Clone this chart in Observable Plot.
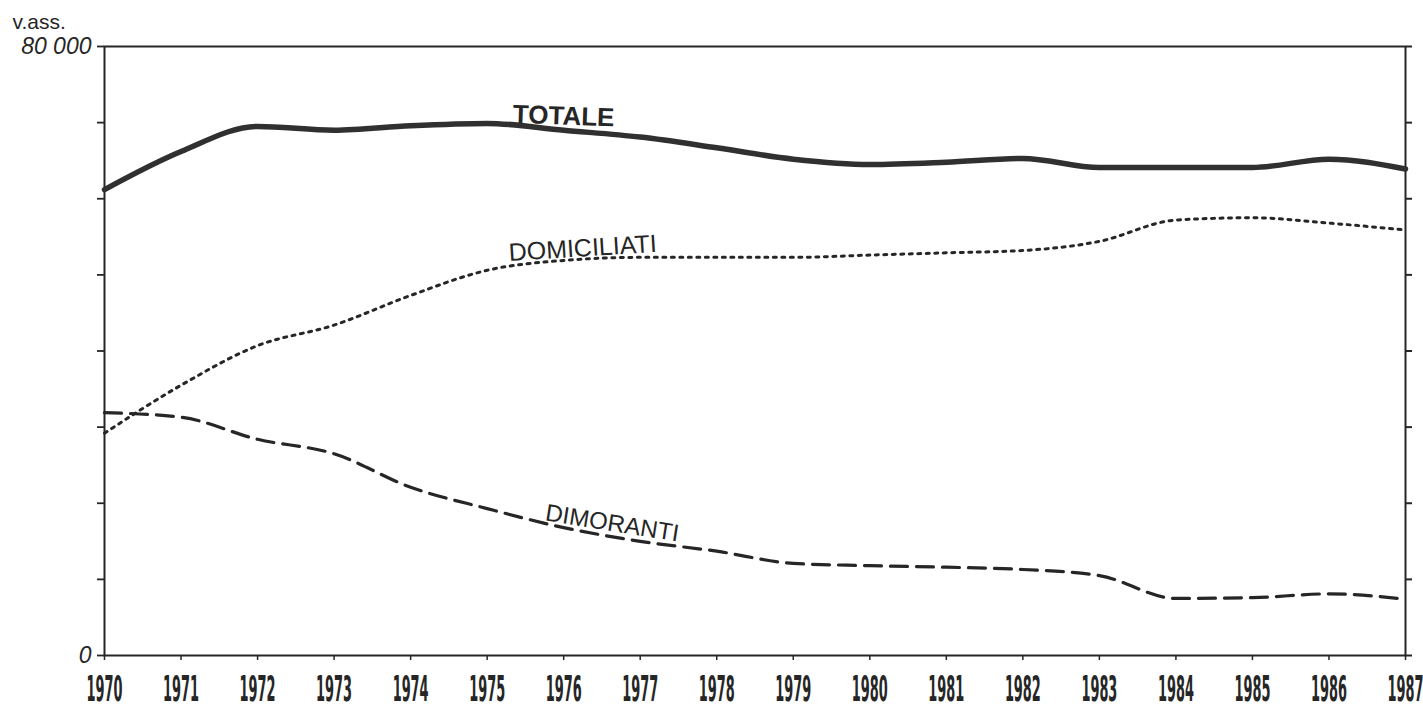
<!DOCTYPE html>
<html>
<head>
<meta charset="utf-8">
<script src="https://cdn.jsdelivr.net/npm/d3@7"></script>
<script src="https://cdn.jsdelivr.net/npm/@observablehq/plot@0.6"></script>
<style>
  html, body { margin: 0; padding: 0; background: #fff; }
  #chart { width: 1423px; height: 713px; overflow: hidden; }
</style>
</head>
<body>
<div id="chart"></div>
<script>
const years = [1970, 1971, 1972, 1973, 1974, 1975, 1976, 1977, 1978, 1979, 1980, 1981, 1982, 1983, 1984, 1985, 1986, 1987];
const totale = [61200, 66200, 69500, 69000, 69600, 69900, 69000, 68100, 66700, 65200, 64500, 64800, 65300, 64100, 64100, 64100, 65200, 63900];
const domiciliati = [29200, 35500, 40700, 43400, 47300, 50600, 51900, 52300, 52300, 52300, 52600, 52900, 53200, 54400, 57200, 57500, 56800, 55900];
const dimoranti = [31900, 31300, 28400, 26500, 22100, 19300, 16800, 15000, 13700, 12100, 11800, 11600, 11300, 10500, 7500, 7600, 8100, 7400];
const yTicks = [0, 10000, 20000, 30000, 40000, 50000, 60000, 70000, 80000];
const yTickLabels = {0: "0", 80000: "80 000"};
const unitLabel = "v.ass.";
const seriesLabels = ["TOTALE", "DOMICILIATI", "DIMORANTI"];

const ink = "#262626";
const rowsT = years.map((y, i) => ({year: y, value: totale[i]}));
const rowsD = years.map((y, i) => ({year: y, value: domiciliati[i]}));
const rowsR = years.map((y, i) => ({year: y, value: dimoranti[i]}));

const chart = Plot.plot({
  width: 1423,
  height: 713,
  marginLeft: 104,
  marginRight: 18,
  marginTop: 46,
  marginBottom: 58,
  style: {background: "#fff", color: ink},
  x: {domain: [1970, 1987], label: null},
  y: {domain: [0, 80000], label: null},
  marks: [
    Plot.axisX({ticks: years, tickFormat: d => String(d), tickSize: 5, tickPadding: 15, label: null,
      fontSize: 36, fontWeight: "bold", fontFamily: "'DejaVu Sans Condensed', 'Liberation Sans Narrow', sans-serif",
      stroke: ink, fill: ink, strokeWidth: 1.5}),
    Plot.axisY({ticks: yTicks, tickFormat: d => yTickLabels[d] || "", tickSize: 7, tickPadding: 6, label: null,
      fontSize: 23, fontStyle: "italic", fontFamily: "'Liberation Sans', Arial, sans-serif",
      stroke: ink, fill: ink, strokeWidth: 1.8}),
    Plot.axisY({anchor: "right", ticks: yTicks, tickFormat: () => "", tickSize: 6, label: null, stroke: ink, strokeWidth: 2}),
    Plot.frame({stroke: ink, strokeWidth: 2}),
    Plot.line(rowsR, {x: "year", y: "value", stroke: ink, strokeWidth: 3.2, strokeDasharray: "17,9", curve: "monotone-x"}),
    Plot.line(rowsD, {x: "year", y: "value", stroke: ink, strokeWidth: 3, strokeDasharray: "3,5.5", curve: "monotone-x"}),
    Plot.line(rowsT, {x: "year", y: "value", stroke: "#303030", strokeWidth: 5.5, curve: "monotone-x"}),
    Plot.text([rowsT[6]], {x: "year", y: "value", text: () => seriesLabels[0], dy: -14, dx: 0, rotate: 2,
      fontSize: 26, fontWeight: "bold", fontFamily: "'Liberation Sans', Arial, sans-serif", fill: ink}),
    Plot.text([rowsD[6]], {x: "year", y: "value", text: () => seriesLabels[1], dy: -12, dx: 19, rotate: -3.5,
      fontSize: 25, fontFamily: "'Liberation Sans', Arial, sans-serif", fill: ink}),
    Plot.text([rowsR[7]], {x: "year", y: "value", text: () => seriesLabels[2], dy: -18, dx: -28, rotate: 9,
      fontSize: 24, fontFamily: "'Liberation Sans', Arial, sans-serif", fill: ink}),
    Plot.text([unitLabel], {frameAnchor: "top-left", text: d => d, dx: -92, dy: -24, textAnchor: "start", lineAnchor: "middle",
      fontSize: 21, fontFamily: "'Liberation Sans', Arial, sans-serif", fill: ink})
  ]
});

document.getElementById("chart").appendChild(chart);
chart.querySelectorAll('g[aria-label="x-axis tick label"] text').forEach(t => {
  const w = t.getComputedTextLength();
  const s = w > 0 ? 36 / w : 0.42;
  const tr = t.getAttribute("transform") || "";
  t.setAttribute("transform", tr + " scale(" + s.toFixed(3) + ",1)");
});
</script>
</body>
</html>
